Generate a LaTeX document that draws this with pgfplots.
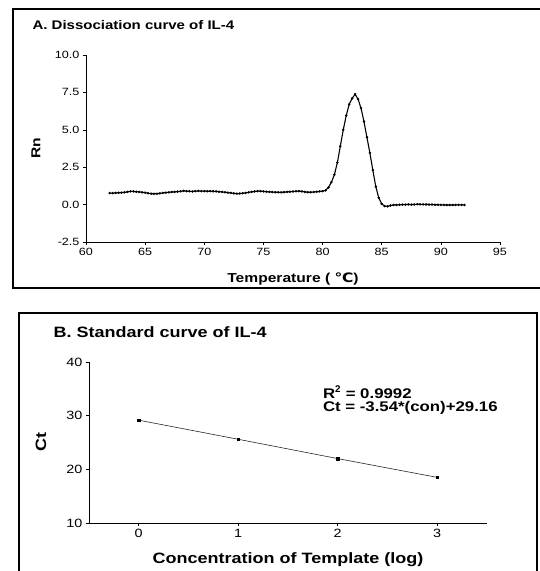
\documentclass[border=0pt]{standalone}
\usepackage{fontspec}
\setmainfont{Liberation Sans}
\newfontfamily\wide[FakeStretch=1.2]{Liberation Sans}
\newfontfamily\symfont[FakeStretch=1.2]{DejaVu Sans}
\usepackage{pgfplots}
\pgfplotsset{compat=1.18}
\usepackage{pgfplotstable}

% dissociation curve
\pgfplotstableread{
T Rn
62.00 0.77
62.25 0.76
62.50 0.78
62.75 0.79
63.00 0.80
63.25 0.82
63.50 0.85
63.75 0.88
64.00 0.88
64.25 0.86
64.50 0.85
64.75 0.82
65.00 0.80
65.25 0.76
65.50 0.73
65.75 0.72
66.00 0.73
66.25 0.75
66.50 0.78
66.75 0.80
67.00 0.82
67.25 0.84
67.50 0.85
67.75 0.87
68.00 0.89
68.25 0.92
68.50 0.90
68.75 0.89
69.00 0.88
69.25 0.90
69.50 0.91
69.75 0.90
70.00 0.90
70.25 0.89
70.50 0.90
70.75 0.89
71.00 0.88
71.25 0.86
71.50 0.85
71.75 0.82
72.00 0.80
72.25 0.78
72.50 0.75
72.75 0.73
73.00 0.74
73.25 0.76
73.50 0.78
73.75 0.82
74.00 0.85
74.25 0.88
74.50 0.90
74.75 0.90
75.00 0.88
75.25 0.86
75.50 0.85
75.75 0.84
76.00 0.83
76.25 0.82
76.50 0.82
76.75 0.83
77.00 0.85
77.25 0.86
77.50 0.88
77.75 0.89
78.00 0.90
78.25 0.88
78.50 0.85
78.75 0.83
79.00 0.82
79.25 0.84
79.50 0.86
79.75 0.88
80.00 0.90
80.25 0.95
80.50 1.15
80.75 1.50
81.00 2.00
81.25 2.80
81.50 3.90
81.75 5.00
82.00 5.95
82.25 6.70
82.50 7.10
82.75 7.38
83.00 7.05
83.25 6.45
83.50 5.55
83.75 4.50
84.00 3.45
84.25 2.30
84.50 1.20
84.75 0.45
85.00 0.05
85.25 -0.10
85.50 -0.12
85.75 -0.06
86.00 -0.03
86.25 -0.02
86.50 -0.01
86.75 0.00
87.00 0.00
87.25 0.01
87.50 0.00
87.75 0.01
88.00 0.02
88.25 0.02
88.50 0.01
88.75 0.01
89.00 0.00
89.25 0.00
89.50 -0.01
89.75 -0.01
90.00 -0.02
90.25 -0.02
90.50 -0.03
90.75 -0.03
91.00 -0.03
91.25 -0.02
91.50 -0.02
91.75 -0.02
92.00 -0.02
}\meltdata

% standard curve
\pgfplotstableread{
con Ct
0 29.16
1 25.60
2 22.00
3 18.50
}\stddata

\pgfplotsset{
  myaxis/.style={
    scale only axis,
    axis x line*=bottom, axis y line*=left,
    axis line style={line width=0.6pt},
    tick align=outside, major tick length=3pt,
    tick style={black, line width=0.5pt},
    /pgf/number format/assume math mode=true,
    clip=false,
  }
}

\begin{document}
\begin{tikzpicture}
\useasboundingbox (0pt,0pt) rectangle (540pt,571pt);
\clip (0pt,0pt) rectangle (540pt,571pt);

% panel frames
\draw[line width=1.4pt] (13pt,562pt) rectangle (548pt,283pt);
\draw[line width=1.4pt] (19pt,258pt) rectangle (537pt,-10pt);

\node[anchor=west,font=\wide\bfseries\fontsize{12.5}{14}\selectfont] at (29pt,546pt) {A. Dissociation curve of IL-4};
\node[anchor=west,font=\wide\bfseries\fontsize{15}{17}\selectfont] at (50pt,239pt) {B. Standard curve of IL-4};

\begin{axis}[myaxis,
  at={(86pt,329pt)}, anchor=south west,
  width=414pt, height=187pt,
  xmin=60, xmax=95, ymin=-2.5, ymax=10,
  xtick={60,65,...,95},
  ytick={-2.5,0,2.5,5,7.5,10},
  ticklabel style={font=\wide\fontsize{10.5}{12}\selectfont},
  yticklabel style={/pgf/number format/fixed, /pgf/number format/fixed zerofill, /pgf/number format/precision=1},
  xlabel={Temperature ( {\symfont ℃})},
  ylabel={Rn},
  xlabel style={font=\wide\bfseries\fontsize{13}{15}\selectfont},
  ylabel style={font=\wide\bfseries\fontsize{13}{15}\selectfont},
  every axis x label/.append style={at={(axis description cs:0.5,-0.2)}, anchor=center},
  every axis y label/.append style={at={(axis description cs:-0.121,0.503)}, anchor=center},
]
\addplot[black, line width=1.1pt, mark=*, mark size=0.6pt] table[x=T, y=Rn] {\meltdata};
\end{axis}

\begin{axis}[myaxis,
  at={(89pt,48pt)}, anchor=south west,
  width=398pt, height=161pt,
  xmin=-0.5, xmax=3.5, ymin=10, ymax=40,
  xtick={0,1,2,3},
  ytick={10,20,30,40},
  ticklabel style={font=\wide\fontsize{12}{14}\selectfont},
  xlabel={Concentration of Template (log)},
  ylabel={Ct},
  xlabel style={font=\wide\bfseries\fontsize{15}{17}\selectfont},
  ylabel style={font=\wide\bfseries\fontsize{15}{17}\selectfont},
  every axis x label/.append style={at={(axis description cs:0.5,-0.23)}, anchor=center},
  every axis y label/.append style={at={(axis description cs:-0.121,0.503)}, anchor=center},
]
\addplot[black!85, line width=0.6pt, mark=square*, mark size=1.3pt, mark options={black}] table[x=con, y=Ct] {\stddata};
\node[anchor=west, font=\wide\bfseries\fontsize{14}{16}\selectfont, inner sep=0pt]
  at (axis cs:1.85,34.4) {R$^{\mathbf{2}}$ = 0.9992};
\node[anchor=west, font=\wide\bfseries\fontsize{14}{16}\selectfont, inner sep=0pt]
  at (axis cs:1.85,31.4) {Ct = -3.54*(con)+29.16};
\end{axis}
\end{tikzpicture}
\end{document}
